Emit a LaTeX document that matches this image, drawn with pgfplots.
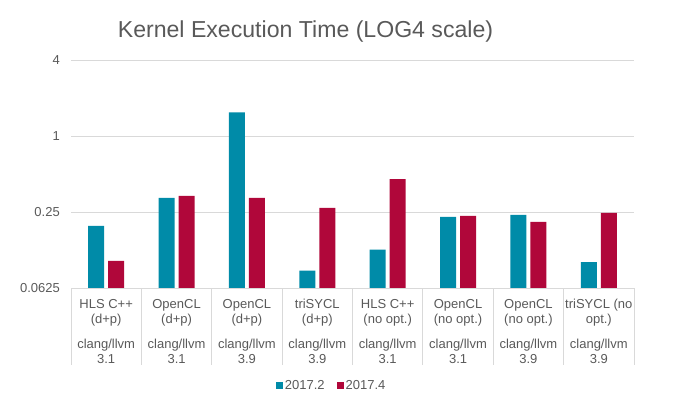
\documentclass[border=0pt]{standalone}
\usepackage{fontspec}
\setmainfont{Liberation Sans}
\usepackage{pgfplots}
\pgfplotsset{compat=1.18}
\definecolor{tealc}{RGB}{0,139,168}
\definecolor{crim}{RGB}{176,7,58}
\definecolor{txt}{RGB}{89,89,89}
\definecolor{grd}{RGB}{217,217,217}
\begin{document}
\begin{tikzpicture}[x=1pt,y=1pt]
\useasboundingbox (0,0) rectangle (680,417);
\node[anchor=base, text=txt, font=\fontsize{23.1}{28}\selectfont, inner sep=0pt] at (305.5,379.5) {Kernel Execution Time (LOG4 scale)};
\begin{axis}[
  at={(71pt,129pt)}, anchor=south west,
  scale only axis, width=563pt, height=228pt,
  ymode=log, log basis y=4, ymin=0.0625, ymax=4, log origin=infty,
  xmin=-0.5, xmax=7.5,
  ybar=4pt, bar width=16pt,
  axis line style={draw=none},
  major tick length=0pt,
  xtick pos=bottom, ytick pos=left,
  ytick={0.0625,0.25,1,4},
  yticklabels={0.0625,0.25,1,4},
  ymajorgrids, major grid style={draw=grd, line width=0.75pt},
  xtick={0,...,7},
  xticklabels={
    {\strut HLS C++\\(d+p)\\[10pt]clang/llvm\\3.1},
    {\strut OpenCL\\(d+p)\\[10pt]clang/llvm\\3.1},
    {\strut OpenCL\\(d+p)\\[10pt]clang/llvm\\3.9},
    {\strut triSYCL\\(d+p)\\[10pt]clang/llvm\\3.9},
    {\strut HLS C++\\(no opt.)\\[10pt]clang/llvm\\3.1},
    {\strut OpenCL\\(no opt.)\\[10pt]clang/llvm\\3.1},
    {\strut OpenCL\\(no opt.)\\[10pt]clang/llvm\\3.9},
    {\strut triSYCL (no\\opt.)\\[10pt]clang/llvm\\3.9}},
  xticklabel style={font=\fontsize{13}{15}\selectfont, text=txt, align=center, anchor=north, inner sep=0pt, yshift=-9.8pt},
  yticklabel style={font=\fontsize{13}{15}\selectfont, text=txt, inner sep=0pt, xshift=-11pt},
  /pgf/number format/assume math mode=true,
  extra x ticks={-0.5,0.5,1.5,2.5,3.5,4.5,5.5,6.5,7.5},
  extra x tick labels={},
  extra x tick style={major tick length=77pt, tick align=outside, tick style={draw=grd, line width=0.75pt}, grid=none},
  legend columns=2,
  legend style={at={(0.463,-0.4285)}, anchor=center, draw=none, fill=none,
    font=\fontsize{13}{15}\selectfont, text=txt,
    /tikz/every even column/.append style={column sep=11pt},
    nodes={inner sep=1.5pt}},
]
\addplot[fill=tealc, draw=none, legend image code/.code={\fill[tealc] (0pt,-3.5pt) rectangle (7pt,3.5pt);}]
  coordinates {(0,0.194) (1,0.323) (2,1.54) (3,0.0857) (4,0.126) (5,0.229) (6,0.237) (7,0.100)};
\addplot[fill=crim, draw=none, legend image code/.code={\fill[crim] (0pt,-3.5pt) rectangle (7pt,3.5pt);}]
  coordinates {(0,0.1025) (1,0.335) (2,0.323) (3,0.269) (4,0.456) (5,0.233) (6,0.209) (7,0.246)};
\legend{2017.2,2017.4}
\end{axis}
\end{tikzpicture}
\end{document}
